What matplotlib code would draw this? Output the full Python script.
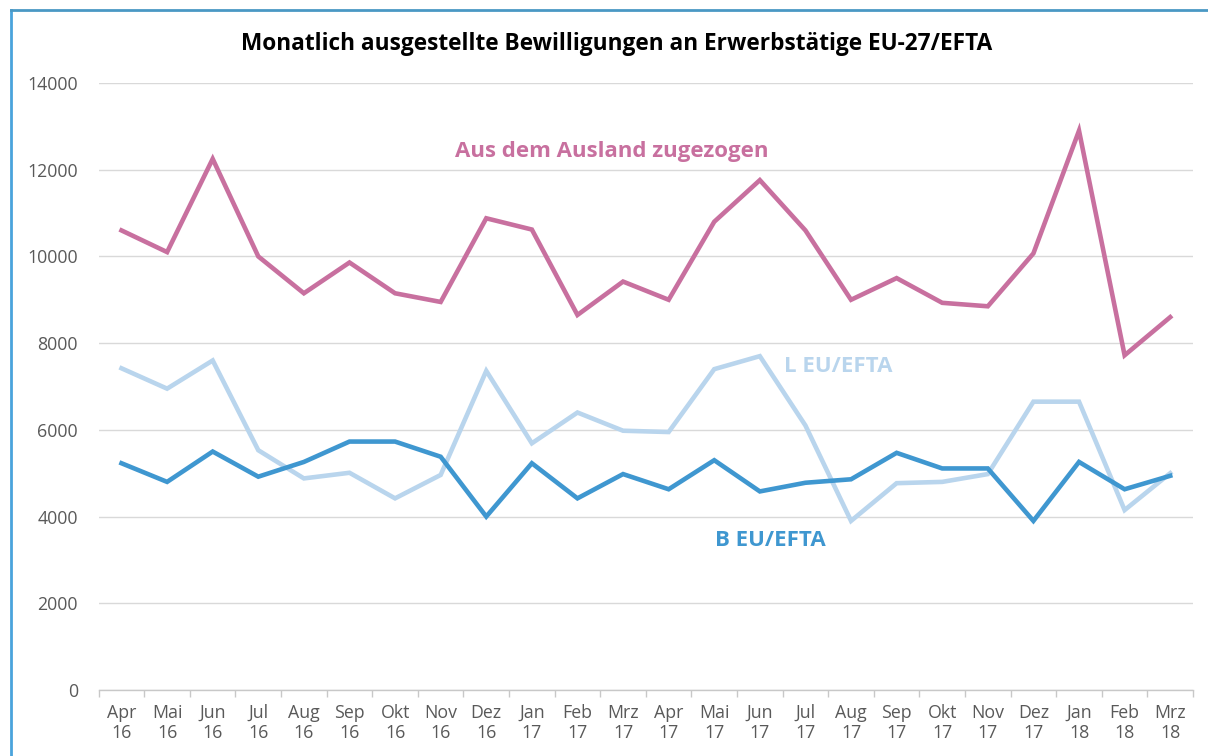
import matplotlib
matplotlib.use("Agg")
import matplotlib.pyplot as plt
from matplotlib.lines import Line2D
import numpy as np

months = ["Apr\n16", "Mai\n16", "Jun\n16", "Jul\n16", "Aug\n16", "Sep\n16", "Okt\n16", "Nov\n16",
          "Dez\n16", "Jan\n17", "Feb\n17", "Mrz\n17", "Apr\n17", "Mai\n17", "Jun\n17", "Jul\n17",
          "Aug\n17", "Sep\n17", "Okt\n17", "Nov\n17", "Dez\n17", "Jan\n18", "Feb\n18", "Mrz\n18"]

ausland = [10600, 10100, 12250, 10000, 9150, 9860, 9150, 8950, 10880, 10620, 8650, 9420,
           9000, 10800, 11760, 10600, 9000, 9500, 8930, 8850, 10070, 12900, 7720, 8600]

l_eu = [7420, 6950, 7600, 5530, 4880, 5010, 4420, 4960, 7360, 5690, 6400, 5980,
        5950, 7400, 7700, 6100, 3900, 4770, 4800, 4980, 6650, 6650, 4150, 5000]

b_eu = [5230, 4800, 5500, 4920, 5260, 5730, 5730, 5380, 4000, 5230, 4420, 4980,
        4630, 5300, 4580, 4780, 4860, 5470, 5110, 5110, 3900, 5260, 4630, 4940]

yticks = [0, 2000, 4000, 6000, 8000, 10000, 12000, 14000]

plt.rcParams['font.family'] = ['Open Sans', 'DejaVu Sans']

W, H = 1208, 756
fig = plt.figure(figsize=(W / 100, H / 100), dpi=100)
fig.patch.set_facecolor("white")

ax = fig.add_axes([98.7 / W, 1 - 690 / H, (1193 - 98.7) / W, (690 - 83) / H])
x = np.arange(len(months))

c_pink = "#c8709f"
c_dark = "#3f97d0"
c_light = "#b9d5ed"

ax.plot(x, l_eu, color=c_light, lw=3.3, solid_joinstyle="miter", zorder=3)
ax.plot(x, b_eu, color=c_dark, lw=3.3, solid_joinstyle="miter", zorder=4)
ax.plot(x, ausland, color=c_pink, lw=3.3, solid_joinstyle="miter", zorder=5)

ax.set_xlim(-0.5, len(months) - 0.5)
ax.set_ylim(0, 14000)
ax.set_yticks(yticks)
ax.set_yticklabels([str(v) for v in yticks])
ax.set_xticks(x)
ax.set_xticklabels(months, linespacing=1.15)
ax.set_xticks(np.arange(-0.5, len(months), 1.0), minor=True)

ax.grid(axis="y", color="#d9d9d9", lw=1)
ax.set_axisbelow(True)
for s in ["top", "right", "left"]:
    ax.spines[s].set_visible(False)
ax.spines["bottom"].set_color("#c8c8c8")
ax.spines["bottom"].set_linewidth(1)

ax.tick_params(axis="y", length=0, pad=15, labelsize=12.8, labelcolor="#595959")
ax.tick_params(axis="x", which="major", length=0, pad=10, labelsize=12.8, labelcolor="#595959")
ax.tick_params(axis="x", which="minor", length=5, color="#c8c8c8", width=1)
ax.set_facecolor("none")

fig.text(617 / W, 1 - 44 / H, "Monatlich ausgestellte Bewilligungen an Erwerbstätige EU-27/EFTA",
         ha="center", va="center", fontsize=16.3, fontweight="bold", color="#000000")

ax.text(612 / W, 1 - 152 / H, "Aus dem Ausland zugezogen", transform=fig.transFigure,
        ha="center", va="center", fontsize=16, fontweight="bold", color=c_pink)
ax.text(838 / W, 1 - 367 / H, "L EU/EFTA", transform=fig.transFigure,
        ha="center", va="center", fontsize=16, fontweight="bold", color=c_light)
ax.text(770 / W, 1 - 540 / H, "B EU/EFTA", transform=fig.transFigure,
        ha="center", va="center", fontsize=16, fontweight="bold", color=c_dark)

# outer frame (left and top edges)
fig.add_artist(Line2D([11 / W, 11 / W], [0, 1 - 10 / H], transform=fig.transFigure,
                      color="#4aa3dc", lw=2))
fig.add_artist(Line2D([11 / W, 1], [1 - 10 / H, 1 - 10 / H], transform=fig.transFigure,
                      color="#4a98c4", lw=2))

fig.savefig("out.png", dpi=100, facecolor="white")
